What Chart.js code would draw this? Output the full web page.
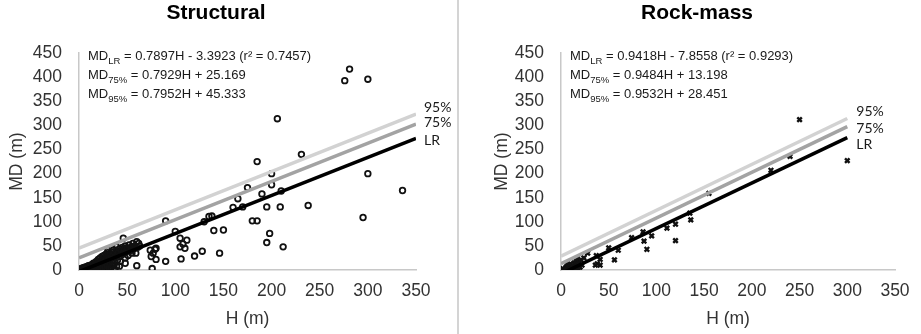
<!DOCTYPE html>
<html><head><meta charset="utf-8">
<script src="https://cdn.jsdelivr.net/npm/chart.js@4/dist/chart.umd.min.js"></script>
<style>
html,body{margin:0;padding:0;background:#fff;width:921px;height:334px;overflow:hidden;}
#l{position:absolute;left:0;top:0;width:457px;height:334px;}
#r{position:absolute;left:460px;top:0;width:461px;height:334px;}
#sep{position:absolute;left:457px;top:0;width:2px;height:334px;background:#d4d4d4;}
</style></head><body>
<div id="l"><canvas id="c1" width="457" height="334"></canvas></div>
<div id="sep"></div>
<div id="r"><canvas id="c2" width="461" height="334"></canvas></div>
<script>
// ---------- data ----------
const lineNames = ['LR', '75%', '95%'];
const xTicks = [0, 50, 100, 150, 200, 250, 300, 350];
const yTicks = [0, 50, 100, 150, 200, 250, 300, 350, 400, 450];

// Structural
const structSlope = [0.7897, 0.7929, 0.7952];
const structIntercept = [-3.3923, 25.169, 45.333];
const structR2 = 0.7457;
const structLineEnd = 350;
const structH = [281,276,300,206,231,185,200,300,200,210,336,175,190,165,160,170,195,209,238,295,180,185,135,138,130,140,150,90,100,198,105,112,108,105,110,195,212,128,120,106,146,80,79,74,77,75,80,90,76,60,56,59,60,46,48,42,37,31,62,63,61,49,39,30,
  1,2,2,3,3,4,4,5,5,5,6,6,6,7,7,7,8,8,8,9,9,9,10,10,10,11,11,12,12,12,13,13,14,14,14,15,15,15,16,16,16,17,17,17,18,18,18,19,19,19,20,20,20,20,21,21,21,22,22,22,23,23,24,24,24,25,25,25,26,26,27,27,28,28,28,29,29,30,30,30,31,31,32,32,33,33,34,34,35,35,36,36,37,37,38,39,39,40,40,41,42,42,43,44,45,45,46,47,48,48,49,50,51,52,53,54,55,56,57,58];
const structMD = [417,393,396,314,240,225,200,200,177,164,165,171,158,148,130,131,131,131,134,109,102,102,111,112,100,82,83,102,80,76,66,62,54,48,45,57,48,39,29,23,35,45,43,41,35,28,22,18,3,59,48,35,9,66,14,8,0,5,55,50,47,45,48,41,
  0,1,3,0,2,1,4,0,2,5,1,3,6,0,2,5,1,4,7,0,3,8,1,5,9,2,7,0,4,10,2,8,1,6,12,3,9,14,0,5,11,2,8,15,4,12,18,1,7,14,3,10,17,22,0,6,13,9,19,25,3,15,7,20,28,1,11,24,17,30,5,21,13,26,33,2,9,18,29,36,6,24,14,33,4,27,19,38,10,31,25,42,15,35,30,8,40,21,34,37,44,28,18,40,32,47,36,43,25,50,38,45,30,52,40,47,35,55,44,50];

// Rock-mass
const rockSlope = [0.9418, 0.9484, 0.9532];
const rockIntercept = [-7.8558, 13.198, 28.451];
const rockR2 = 0.9293;
const rockLineEnd = 300;
const rockH = [250,300,220,240,155,135,136,120,111,120,95,86,87,90,74,60,50,56,37,41,36,41,28,17,38,
  2,3,4,5,6,6,7,8,8,9,10,10,11,12,12,13,14,14,15,15,16,16,17,18,18,19,20,21,22,24];
const rockMD = [312,227,207,236,159,118,104,95,87,61,71,79,60,43,67,41,46,21,30,22,10,10,35,24,13,
  3,0,1,5,2,7,9,4,11,1,7,13,3,9,0,6,15,2,11,5,1,18,8,13,3,16,6,21,10,25];

// ---------- drawing ----------
const FONT = "'Liberation Sans', Arial, sans-serif";

function eqText(slope, intercept) {
  return ' = ' + slope.toFixed(4) + 'H ' + (intercept < 0 ? '- ' : '+ ') + String(Math.abs(intercept));
}

const annotPlugin = {
  id: 'annot',
  afterDatasetsDraw(chart) {
    const o = chart.options.plugins.annot;
    const ctx = chart.ctx, ca = chart.chartArea;
    const xs = chart.scales.x, ys = chart.scales.y;
    ctx.save();
    ctx.fillStyle = '#1a1a1a';
    ctx.textBaseline = 'alphabetic';
    ctx.textAlign = 'left';
    const subs = ['LR', '75%', '95%'];
    for (let i = 0; i < 3; i++) {
      let x = ca.left + 9;
      const y = ca.top + 7 + i * 19;
      ctx.font = '13px ' + FONT;
      ctx.fillText('MD', x, y); x += ctx.measureText('MD').width;
      ctx.font = '9.5px ' + FONT;
      ctx.fillText(subs[i], x, y + 4); x += ctx.measureText(subs[i]).width;
      ctx.font = '13px ' + FONT;
      let t = eqText(o.slope[i], o.intercept[i]);
      if (i === 0) t += ' (r\u00B2 = ' + o.r2 + ')';
      ctx.fillText(t, x, y);
    }
    // line end labels
    ctx.font = "14px 'Liberation Sans Narrow', Lato, sans-serif";
    ctx.textBaseline = 'middle';
    ctx.fillStyle = '#1a1a1a';
    for (let i = 0; i < 3; i++) {
      const xe = o.lineEnd;
      const ye = o.slope[i] * xe + o.intercept[i];
      ctx.fillText(lineNames[i], xs.getPixelForValue(xe) + o.labelDx, ys.getPixelForValue(ye) + o.labelDy[i]);
    }
    ctx.restore();
  }
};

function makeChart(canvasId, cfg) {
  const pts = cfg.H.map((h, i) => ({x: h, y: cfg.MD[i]}));
  const lineColors = ['#000000', '#a3a3a3', '#d2d2d2'];
  const lineDs = [0, 1, 2].map(i => ({
    type: 'scatter',
    label: lineNames[i],
    data: [0, cfg.lineEnd].map(x => ({x: x, y: cfg.slope[i] * x + cfg.intercept[i]})),
    showLine: true, pointRadius: 0, borderColor: lineColors[i], borderWidth: 3.5, fill: false
  }));
  return new Chart(document.getElementById(canvasId), {
    type: 'scatter',
    data: {
      datasets: [...lineDs, {
        label: cfg.title,
        data: pts,
        pointStyle: cfg.pointStyle,
        pointRadius: cfg.pointRadius,
        borderWidth: cfg.pointBorder,
        borderColor: '#111',
        backgroundColor: 'rgba(0,0,0,0)'
      }]
    },
    options: {
      responsive: false, animation: false,
      layout: {padding: {left: cfg.padLeft, right: cfg.padRight, top: 0, bottom: 0}},
      plugins: {
        legend: {display: false}, tooltip: {enabled: false},
        title: {display: true, text: cfg.title, color: '#000',
          font: {family: FONT, size: 21, weight: 'bold'}, padding: {top: 1, bottom: 27}},
        annot: {slope: cfg.slope, intercept: cfg.intercept, r2: cfg.r2, lineEnd: cfg.lineEnd,
          labelDx: cfg.labelDx, labelDy: cfg.labelDy}
      },
      scales: {
        x: {
          type: 'linear', min: 0, max: 350,
          afterBuildTicks: s => { s.ticks = xTicks.map(v => ({value: v})); },
          ticks: {color: '#333', font: {family: FONT, size: 17.5}, padding: 11, maxRotation: 0, autoSkip: false},
          grid: {display: false, drawTicks: false},
          border: {display: true, color: '#c8c8c8', width: 1.5},
          title: {display: true, text: 'H (m)', color: '#333', font: {family: FONT, size: 17.5}, padding: {top: 0, bottom: 4.5}},
          afterFit: s => { s.height = 64; }
        },
        y: {
          type: 'linear', min: 0, max: 450,
          afterBuildTicks: s => { s.ticks = yTicks.map(v => ({value: v})); },
          ticks: {color: '#333', font: {family: FONT, size: 17.5}, padding: 17, autoSkip: false},
          grid: {display: false, drawTicks: false},
          border: {display: true, color: '#c8c8c8', width: 1.5},
          title: {display: true, text: 'MD (m)', color: '#333', font: {family: FONT, size: 17.5}, padding: {top: cfg.yTitlePad, bottom: 0}},
          afterFit: s => { s.width = cfg.yWidth; }
        }
      }
    },
    plugins: [annotPlugin]
  });
}

makeChart('c1', {
  title: 'Structural', H: structH, MD: structMD, slope: structSlope, intercept: structIntercept,
  r2: structR2, lineEnd: structLineEnd, pointStyle: 'circle', pointRadius: 2.8, pointBorder: 1.8,
  padLeft: 16, padRight: 41, yWidth: 63, yTitlePad: -9.5, labelDx: 8, labelDy: [2, -2, -7]
});
makeChart('c2', {
  title: 'Rock-mass', H: rockH, MD: rockMD, slope: rockSlope, intercept: rockIntercept,
  r2: rockR2, lineEnd: rockLineEnd, pointStyle: 'crossRot', pointRadius: 3.2, pointBorder: 2.4,
  padLeft: 39, padRight: 26, yWidth: 62, yTitlePad: -7.5, labelDx: 9, labelDy: [6.5, 1.5, -7.5]
});
</script>
</body></html>
